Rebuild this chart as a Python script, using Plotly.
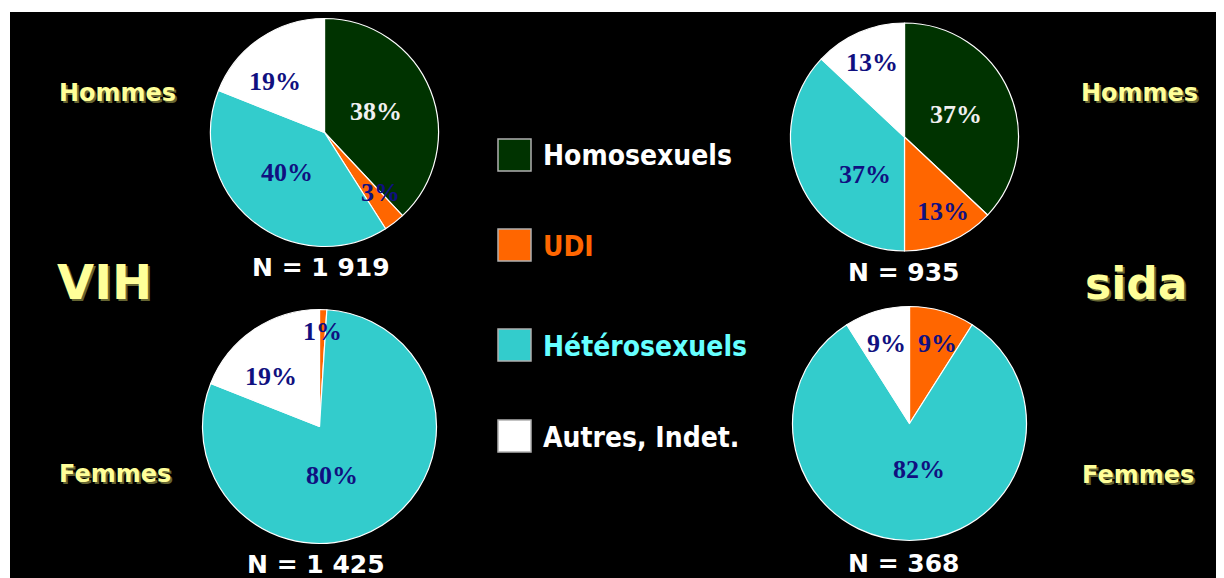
import math
import plotly.graph_objects as go

W, H = 1224, 578
OFF = 8  # the page body margin shifts the figure by 8px

categories = ["Homosexuels", "UDI", "Hétérosexuels", "Autres, Indet."]
colors = ["#003300", "#ff6600", "#33cccc", "#ffffff"]
legend_text_colors = ["#ffffff", "#ff6600", "#66ffff", "#ffffff"]

vih_hommes = [38, 3, 40, 19]
vih_femmes = [0, 1, 80, 19]
sida_hommes = [37, 13, 37, 13]
sida_femmes = [0, 9, 82, 9]

n_labels = ["N = 1 919", "N = 1 425", "N = 935", "N = 368"]

# layout (pixel centres / radii of each pie), label placement style
pies = [
    dict(vals=vih_hommes, cx=324.5, cy=132.5, r=114, n=n_labels[0], nx=321, ny=267,
         rf=[0.49, 0.72, 0.48, 0.62], da=[0, -5, 4, -10]),
    dict(vals=vih_femmes, cx=319.5, cy=426.5, r=117, n=n_labels[1], nx=316, ny=564,
         rf=[0.5, 0.81, 0.43, 0.60], da=[0, 0, 18, -10]),
    dict(vals=sida_hommes, cx=904.5, cy=137.0, r=114, n=n_labels[2], nx=903, ny=272,
         rf=[0.49, 0.74, 0.48, 0.71], da=[0, -4, -20, 0]),
    dict(vals=sida_femmes, cx=909.5, cy=423.5, r=117, n=n_labels[3], nx=904, ny=563,
         rf=[0.5, 0.72, 0.40, 0.71], da=[0, 3, -12, 0]),
]


def px(x):
    return (x - OFF) / W


def py(y):
    return 1 - (y - OFF) / H


fig = go.Figure()
annotations = []
shapes = [dict(type="rect", xref="paper", yref="paper", x0=px(10), x1=1, y0=0, y1=py(12),
               fillcolor="#000000", line=dict(width=0), layer="below")]

for p in pies:
    cx, cy, r = p["cx"], p["cy"], p["r"]
    fig.add_trace(go.Pie(
        labels=categories, values=p["vals"], sort=False, direction="clockwise", rotation=0,
        marker=dict(colors=colors, line=dict(color="#ffffff", width=1.2)),
        textinfo="none", hoverinfo="label+percent", showlegend=False,
        domain=dict(x=[px(cx - r), px(cx + r)], y=[py(cy + r), py(cy - r)]),
    ))
    total = sum(p["vals"])
    cum = 0
    for i, v in enumerate(p["vals"]):
        if v > 0:
            mid = (cum + v / 2) / total * 360 + p["da"][i]
            d = p["rf"][i] * r
            tx = cx + d * math.sin(math.radians(mid))
            ty = cy - d * math.cos(math.radians(mid))
            annotations.append(dict(
                x=px(tx), y=py(ty), xref="paper", yref="paper", showarrow=False,
                text=f"{v}%", xanchor="center", yanchor="middle",
                font=dict(family="Liberation Serif", size=26,
                          color="#f0f0f0" if i == 0 else "#101080", weight="bold")))
        cum += v
    annotations.append(dict(
        x=px(p["nx"]), y=py(p["ny"]), xref="paper", yref="paper", showarrow=False,
        text=p["n"], xanchor="center", yanchor="middle",
        font=dict(family="DejaVu Sans", size=25, color="#ffffff", weight="bold")))

yellow = "#ffff99"
shadow = "2px 2px 0px #666633"
side_labels = [("Hommes", 117, 93, 24), ("Hommes", 1139, 93, 24),
               ("Femmes", 115, 474, 24), ("Femmes", 1138, 475, 24),
               ("VIH", 104, 282, 48), ("sida", 1136, 283, 44)]
for t, x, y, s in side_labels:
    annotations.append(dict(
        x=px(x), y=py(y), xref="paper", yref="paper", showarrow=False, text=t,
        xanchor="center", yanchor="middle",
        font=dict(family="DejaVu Sans", size=s, color=yellow, weight="bold", shadow=shadow)))

# manual legend
legend_y = [155, 245, 345, 436]
for i, cat in enumerate(categories):
    y = legend_y[i]
    shapes.append(dict(type="rect", xref="paper", yref="paper",
                       x0=px(498), x1=px(531), y0=py(y + 16), y1=py(y - 16),
                       fillcolor=colors[i], line=dict(color="#b0b0b0", width=1.5)))
    annotations.append(dict(
        x=px(541), y=py(y + 1), xref="paper", yref="paper", showarrow=False, text=cat,
        xanchor="left", yanchor="middle",
        font=dict(family="DejaVu Sans Condensed, DejaVu Sans", size=28,
                  color=legend_text_colors[i], weight="bold")))

fig.update_layout(
    width=W, height=H, margin=dict(l=0, r=0, t=0, b=0),
    paper_bgcolor="#ffffff", plot_bgcolor="#ffffff",
    annotations=annotations, shapes=shapes, showlegend=False,
)

fig.write_html("out.html")
